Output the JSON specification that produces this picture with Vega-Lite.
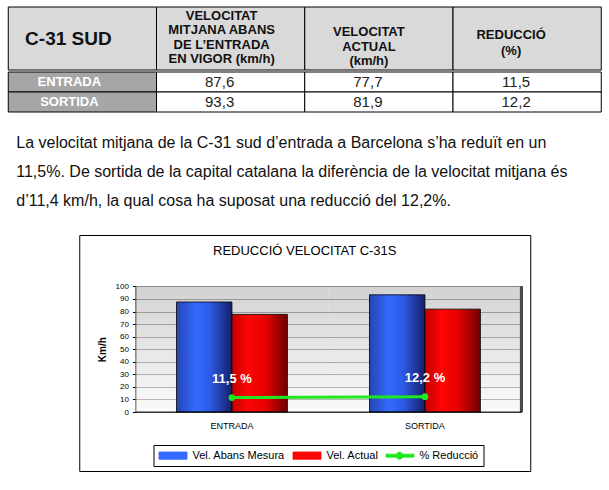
{
  "$schema": "https://vega.github.io/schema/vega-lite/v6.json",
  "background": "white",
  "padding": {"left": 7, "top": 6, "right": 0, "bottom": 0},
  "datasets": {
    "taula": [
      {"tram": "ENTRADA", "abans": 87.6, "actual": 77.7, "reduccio": 11.5},
      {"tram": "SORTIDA", "abans": 93.3, "actual": 81.9, "reduccio": 12.2}
    ],
    "capcalera": [
      {"col": "tram", "text": "C-31 SUD"},
      {"col": "abans", "text": "VELOCITAT\nMITJANA ABANS\nDE L’ENTRADA\nEN VIGOR (km/h)"},
      {"col": "actual", "text": "VELOCITAT\nACTUAL\n(km/h)"},
      {"col": "reduccio", "text": "REDUCCIÓ\n(%)"}
    ]
  },
  "vconcat": [
    {
      "vconcat": [
        {
          "width": 593,
          "height": 63,
          "data": {"name": "capcalera"},
          "encoding": {
            "x": {"field": "col", "type": "nominal", "sort": null,
                  "scale": {"type": "band", "domain": ["tram", "abans", "actual", "reduccio"], "paddingInner": 0, "paddingOuter": 0},
                  "axis": null}
          },
          "layer": [
            {"mark": {"type": "rect", "fill": "#d9d9d9", "stroke": "#000", "strokeWidth": 1}},
            {"transform": [{"filter": "datum.col === 'tram'"}],
             "mark": {"type": "text", "fontSize": 19, "fontWeight": "bold", "dx": -14, "color": "#111"},
             "encoding": {"text": {"field": "text"}}},
            {"transform": [{"filter": "datum.col === 'abans'"}],
             "mark": {"type": "text", "fontSize": 13, "fontWeight": "bold", "lineBreak": "\n", "lineHeight": 14.5, "dx": -9, "dy": -23, "color": "#111"},
             "encoding": {"text": {"field": "text"}}},
            {"transform": [{"filter": "datum.col === 'actual'"}],
             "mark": {"type": "text", "fontSize": 13, "fontWeight": "bold", "lineBreak": "\n", "lineHeight": 14.5, "dx": -10, "dy": -6.5, "color": "#111"},
             "encoding": {"text": {"field": "text"}}},
            {"transform": [{"filter": "datum.col === 'reduccio'"}],
             "mark": {"type": "text", "fontSize": 13, "fontWeight": "bold", "lineBreak": "\n", "lineHeight": 16, "dx": -16, "dy": -4, "color": "#111"},
             "encoding": {"text": {"field": "text"}}}
          ]
        },
        {
          "width": 593,
          "height": 40,
          "data": {"name": "taula"},
          "title": {
            "text": [
              "La velocitat mitjana de la C-31 sud d’entrada a Barcelona s’ha reduït en un",
              "11,5%. De sortida de la capital catalana la diferència de la velocitat mitjana és",
              "d’11,4 km/h, la qual cosa ha suposat una reducció del 12,2%."
            ],
            "orient": "bottom",
            "anchor": "start",
            "frame": "group",
            "baseline": "top",
            "fontSize": 16,
            "fontWeight": "normal",
            "lineHeight": 29,
            "offset": 22,
            "dx": 8,
            "color": "#111"
          },
          "encoding": {
            "y": {"field": "tram", "type": "nominal", "sort": null,
                  "scale": {"type": "band", "paddingInner": 0, "paddingOuter": 0}, "axis": null}
          },
          "layer": [
            {"transform": [{"fold": ["abans", "actual", "reduccio"], "as": ["col", "valor"]}],
             "mark": {"type": "rect", "fill": "#fff", "stroke": "#000", "strokeWidth": 1},
             "encoding": {
               "x": {"field": "col", "type": "nominal",
                     "scale": {"type": "band", "domain": ["tram", "abans", "actual", "reduccio"], "paddingInner": 0, "paddingOuter": 0},
                     "axis": null}
             }},
            {"mark": {"type": "rect", "fill": "#a6a6a6", "stroke": "#000", "strokeWidth": 1},
             "encoding": {"x": {"datum": "tram", "type": "nominal"}}},
            {"transform": [{"fold": ["abans", "actual", "reduccio"], "as": ["col", "valor"]}],
             "mark": {"type": "text", "fontSize": 15, "dx": -11, "color": "#222"},
             "encoding": {
               "x": {"field": "col", "type": "nominal"},
               "text": {"field": "valor", "type": "quantitative", "format": ".1f"}
             }},
            {"mark": {"type": "text", "fontSize": 13, "fontWeight": "bold", "dx": -13, "color": "#fff"},
             "encoding": {"x": {"datum": "tram", "type": "nominal"}, "text": {"field": "tram"}}}
          ]
        }
      ],
      "spacing": 0
    },
    {
      "width": 451,
      "height": 236,
      "data": {"name": "taula"},
      "view": {"stroke": "#000", "strokeWidth": 1, "fill": "#fff"},
      "title": {
        "text": "REDUCCIÓ VELOCITAT C-31S",
        "fontSize": 13,
        "fontWeight": "normal",
        "color": "#000",
        "anchor": "middle",
        "frame": "group",
        "baseline": "alphabetic",
        "offset": -33
      },
      "encoding": {
        "x": {
          "field": "tram", "type": "nominal", "sort": null,
          "scale": {"type": "band", "range": [56.2, 442.2], "paddingInner": 0, "paddingOuter": 0},
          "axis": {
            "orient": "bottom", "offset": -59.4, "title": null, "labelAngle": 0,
            "ticks": false, "grid": false, "domainColor": "#000",
            "labelFontSize": 9, "labelPadding": 10, "labelColor": "#000"
          }
        }
      },
      "layer": [
        {
          "mark": {"type": "rect", "fillOpacity": 0.5,
                   "fill": {"gradient": "linear", "x1": 0, "y1": 0, "x2": 0, "y2": 1,
                            "stops": [{"offset": 0, "color": "#a6a6a6"}, {"offset": 1, "color": "#f6f6f6"}]}},
          "encoding": {
            "y": {
              "datum": 0, "type": "quantitative", "title": "Km/h",
              "scale": {"domain": [0, 100], "range": [177, 51.4], "nice": false},
              "axis": {
                "orient": "left", "offset": -56.2,
                "values": [0, 10, 20, 30, 40, 50, 60, 70, 80, 90, 100],
                "tickCount": 11, "labelOverlap": false,
                "grid": true, "gridColor": "#808080", "gridWidth": 1,
                "domainColor": "#000", "tickColor": "#000", "tickSize": 3,
                "labelFontSize": 8, "labelPadding": 4, "labelColor": "#000",
                "titleFontSize": 10, "titleFontWeight": "bold", "titlePadding": 8, "titleColor": "#000"
              }
            },
            "y2": {"datum": 100}
          }
        },
        {
          "mark": {"type": "rule", "strokeWidth": 3, "color": "#4a4a4a"},
          "encoding": {
            "x": {"datum": "SORTIDA", "type": "nominal", "bandPosition": 1},
            "y": {"datum": 0, "type": "quantitative", "title": "Km/h"},
            "y2": {"datum": 100}
          }
        },
        {
          "transform": [{"fold": ["abans", "actual"], "as": ["mesura", "kmh"]}],
          "mark": {"type": "bar", "stroke": "#000", "strokeWidth": 0.8},
          "encoding": {
            "xOffset": {"field": "mesura", "type": "nominal",
                        "scale": {"domain": ["abans", "actual"], "paddingInner": 0, "paddingOuter": 0.74}},
            "y": {
              "field": "kmh", "type": "quantitative", "title": "Km/h",
              "axis": {
                "orient": "left", "offset": -56.2,
                "values": [0, 10, 20, 30, 40, 50, 60, 70, 80, 90, 100],
                "tickCount": 11, "labelOverlap": false,
                "grid": true, "gridColor": "#808080", "gridWidth": 1,
                "domainColor": "#000", "tickColor": "#000", "tickSize": 3,
                "labelFontSize": 8, "labelPadding": 4, "labelColor": "#000",
                "titleFontSize": 10, "titleFontWeight": "bold", "titlePadding": 8, "titleColor": "#000"
              }
            },
            "fill": {
              "condition": {
                "test": "datum.mesura === 'abans'",
                "value": {"gradient": "linear", "x1": 0, "y1": 0, "x2": 1, "y2": 0,
                          "stops": [{"offset": 0, "color": "#2546b0"}, {"offset": 0.35, "color": "#3469ff"},
                                    {"offset": 0.6, "color": "#2d5ae6"}, {"offset": 1, "color": "#142068"}]}
              },
              "value": {"gradient": "linear", "x1": 0, "y1": 0, "x2": 1, "y2": 0,
                        "stops": [{"offset": 0, "color": "#c40000"}, {"offset": 0.3, "color": "#ff0505"},
                                  {"offset": 0.6, "color": "#e60000"}, {"offset": 1, "color": "#6e0000"}]}
            }
          }
        },
        {
          "mark": {"type": "line", "strokeWidth": 3,
                   "point": {"filled": true, "size": 45}},
          "encoding": {
            "y": {"field": "reduccio", "type": "quantitative", "title": "Km/h"},
            "color": {
              "datum": "% Reducció",
              "type": "nominal",
              "scale": {"domain": ["Vel. Abans Mesura", "Vel. Actual", "% Reducció"],
                        "range": ["#3469ff", "#ff0505", "#1ee81e"]},
              "legend": {
                "title": null,
                "orient": "none",
                "legendX": 145.5,
                "legendY": 438,
                "direction": "horizontal",
                "padding": 5,
                "strokeColor": "#000",
                "fillColor": "#fff",
                "columnPadding": 5,
                "labelOffset": 23,
                "symbolSize": 100,
                "labelFontSize": 11,
                "labelColor": "#000",
                "labelLimit": 200,
                "encode": {
                  "symbols": {
                    "update": {
                      "shape": {"signal": "datum.value === '% Reducció' ? 'M-1,-0.3H4.6V0.3H-1Z M2.4,0A0.7,0.7 0 1,1 1,0A0.7,0.7 0 1,1 2.4,0Z' : 'M-1,-0.73H4.6V0.73H-1Z'"},
                      "fill": {"signal": "datum.value === 'Vel. Abans Mesura' ? {gradient: 'linear', x1: 0, y1: 0, x2: 1, y2: 0, stops: [{offset: 0, color: '#142068'}, {offset: 0.6, color: '#3469ff'}, {offset: 1, color: '#2546b0'}]} : datum.value === 'Vel. Actual' ? {gradient: 'linear', x1: 0, y1: 0, x2: 1, y2: 0, stops: [{offset: 0, color: '#6e0000'}, {offset: 0.6, color: '#ff0505'}, {offset: 1, color: '#c40000'}]} : '#1ee81e'"},
                      "stroke": {"signal": "datum.value === '% Reducció' ? '#1ee81e' : '#000'"},
                      "strokeWidth": {"value": 0.8},
                      "opacity": {"value": 1}
                    }
                  }
                }
              }
            }
          }
        },
        {
          "mark": {"type": "text", "dy": -19, "color": "#fff", "fontWeight": "bold", "fontSize": 13},
          "encoding": {
            "y": {"field": "reduccio", "type": "quantitative", "title": "Km/h"},
            "text": {"field": "reduccio", "type": "quantitative", "format": "$.1f"}
          }
        }
      ]
    }
  ],
  "spacing": 25,
  "center": true,
  "config": {
    "font": "Liberation Sans",
    "view": {"stroke": null},
    "locale": {
      "number": {"decimal": ",", "thousands": ".", "grouping": [3], "currency": ["", " %"]}
    }
  }
}
